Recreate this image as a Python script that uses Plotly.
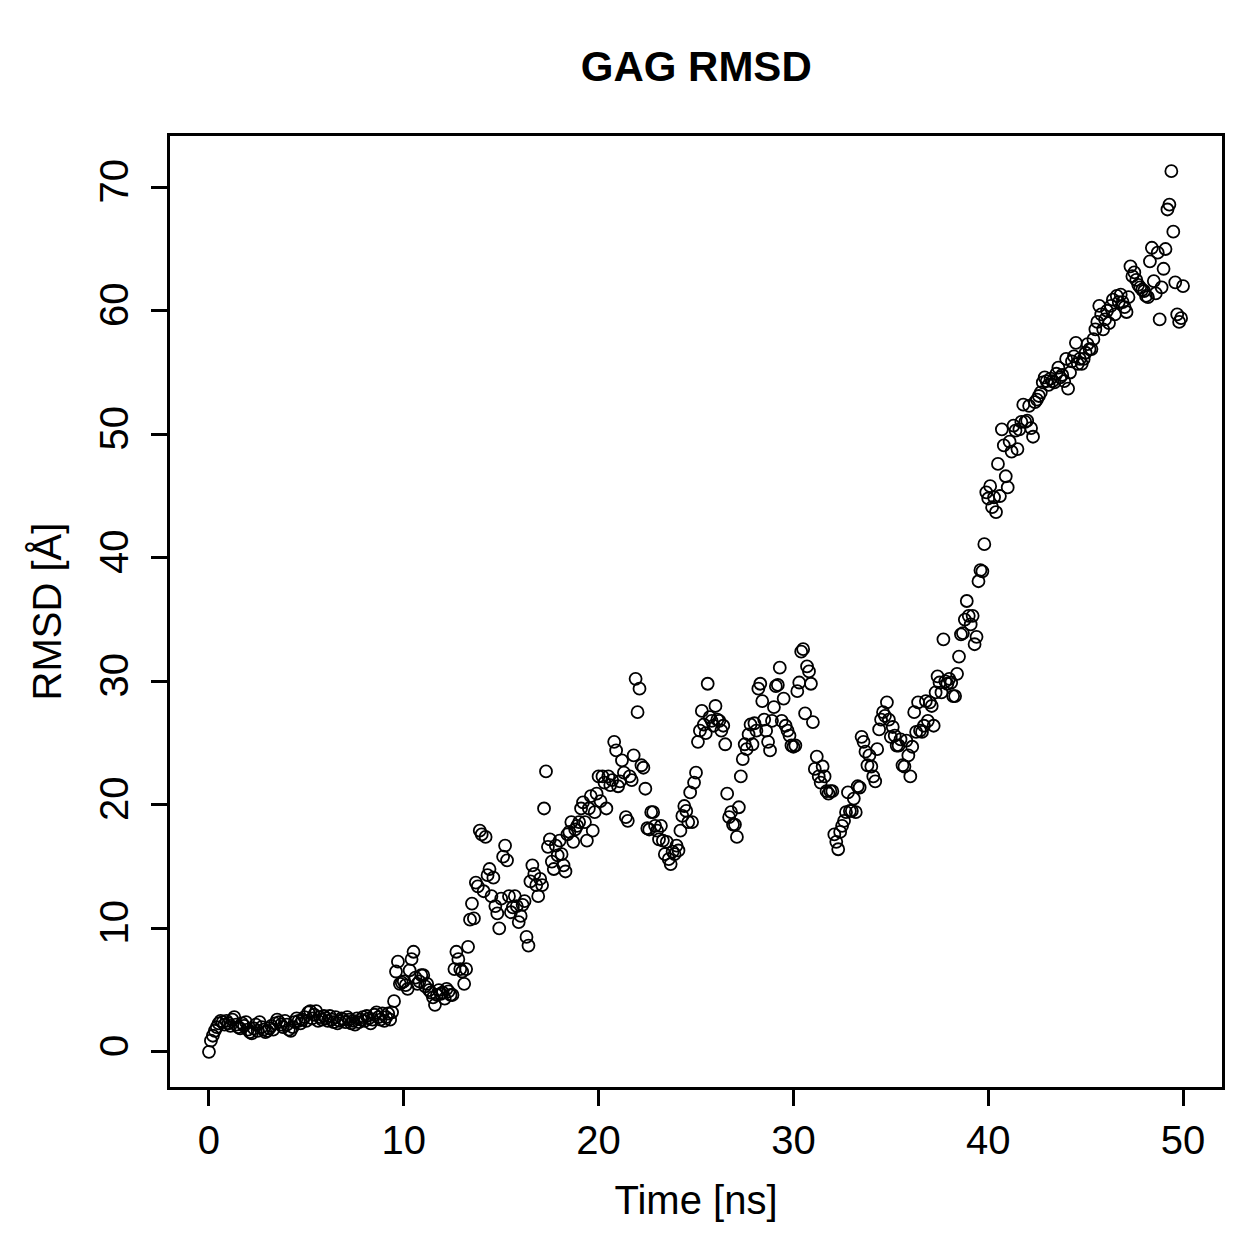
import plotly.graph_objects as go

# Time axis (ns), one frame every 0.1 ns
time_ns = [round(i * 0.1, 1) for i in range(501)]

# RMSD values (Å), 10 frames per row
rmsd = [
    0.0, 0.9, 1.3, 1.7, 2.0, 2.3, 2.5, 2.4, 2.2, 2.5,
    2.3, 2.1, 2.6, 2.8, 2.2, 2.0, 1.9, 2.3, 2.1, 2.4,
    1.8, 1.6, 1.5, 1.9, 2.2, 1.7, 2.4, 2.0, 1.8, 1.6,
    1.7, 1.9, 2.1, 1.8, 2.3, 2.6, 2.4, 2.2, 2.0, 2.5,
    2.2, 1.8, 1.7, 2.0, 2.4, 2.7, 2.5, 2.3, 2.6, 2.8,
    2.5, 3.2, 3.3, 2.7, 3.0, 3.3, 2.5, 2.8, 2.6, 2.9,
    2.7, 2.5, 2.9, 2.6, 2.4, 2.8, 2.3, 2.5, 2.7, 2.6,
    2.4, 2.8, 2.6, 2.3, 2.5, 2.2, 2.7, 2.4, 2.6, 2.8,
    2.5, 2.9, 2.7, 2.3, 2.6, 3.0, 3.2, 2.8, 2.6, 3.1,
    2.5, 2.8, 3.1, 2.6, 3.2, 4.1, 6.5, 7.3, 5.5, 5.6,
    5.7, 5.4, 5.1, 6.6, 7.5, 8.1, 6.0, 5.5, 5.7, 6.2,
    6.2, 5.3, 5.5, 5.0, 4.8, 4.4, 3.8, 4.6, 5.0, 4.7,
    4.8, 4.3, 5.1, 4.9, 4.6, 4.6, 6.7, 8.1, 7.5, 6.7,
    6.5, 5.5, 6.7, 8.5, 10.7, 12.0, 10.8, 13.7, 13.4, 17.9,
    17.6, 13.0, 17.4, 14.3, 14.8, 12.6, 14.1, 11.8, 11.2, 10.0,
    12.4, 15.8, 16.7, 15.5, 12.6, 11.3, 11.7, 12.6, 11.8, 10.5,
    11.0, 11.9, 12.2, 9.3, 8.6, 13.8, 15.1, 14.4, 13.5, 12.6,
    14.0, 13.5, 19.7, 22.7, 16.6, 17.2, 15.4, 14.8, 16.7, 15.9,
    17.1, 16.0, 15.1, 14.6, 17.6, 17.8, 18.6, 17.0, 18.0, 18.3,
    18.6, 19.7, 20.2, 18.6, 17.1, 19.7, 20.7, 17.9, 19.4, 20.9,
    22.3, 20.3, 22.3, 21.8, 19.7, 22.3, 21.6, 22.0, 25.1, 24.4,
    21.5, 21.9, 23.6, 22.6, 19.0, 18.7, 22.3, 22.0, 24.0, 30.2,
    27.5, 29.4, 23.2, 23.0, 21.3, 18.1, 18.0, 19.4, 19.4, 18.3,
    17.9, 17.2, 18.3, 17.1, 16.0, 17.0, 15.6, 15.2, 16.2, 16.0,
    16.7, 16.3, 17.9, 19.1, 19.9, 19.5, 18.6, 21.0, 18.6, 21.8,
    22.6, 25.1, 26.0, 27.6, 26.5, 25.8, 29.8, 27.1, 26.8, 26.4,
    28.0, 26.9, 26.8, 26.0, 26.4, 24.9, 20.9, 19.0, 19.4, 18.4,
    18.4, 17.4, 19.8, 22.3, 23.7, 24.9, 24.5, 25.7, 26.5, 24.9,
    26.6, 26.0, 29.4, 29.8, 28.4, 26.9, 26.0, 25.1, 24.4, 26.8,
    27.9, 29.6, 29.7, 31.1, 26.8, 28.6, 26.4, 26.0, 25.6, 24.8,
    24.7, 24.8, 29.2, 29.9, 32.4, 32.6, 27.4, 31.2, 30.8, 29.8,
    26.7, 22.9, 23.9, 22.3, 21.8, 23.1, 22.3, 21.1, 20.9, 21.1,
    21.1, 17.6, 17.0, 16.4, 17.8, 18.3, 18.7, 19.4, 21.0, 19.5,
    19.5, 20.5, 19.4, 21.5, 21.4, 25.5, 25.1, 24.3, 23.2, 24.0,
    23.1, 22.3, 21.9, 24.5, 26.1, 26.9, 27.5, 27.2, 28.3, 26.9,
    25.5, 26.3, 25.6, 24.8, 24.8, 25.3, 23.2, 23.1, 25.2, 24.0,
    22.3, 24.7, 27.5, 25.9, 28.3, 26.0, 25.9, 26.4, 28.4, 26.8,
    28.3, 28.0, 26.4, 29.1, 30.4, 29.9, 29.1, 33.4, 30.0, 29.8,
    30.2, 29.9, 28.8, 28.8, 30.6, 32.0, 33.8, 33.9, 35.0, 36.5,
    35.3, 34.6, 35.3, 33.0, 33.6, 38.1, 39.0, 38.9, 41.1, 45.3,
    44.8, 45.8, 44.1, 44.9, 43.7, 47.6, 45.0, 50.4, 49.1, 46.6,
    45.7, 49.4, 48.6, 50.7, 50.3, 48.8, 50.4, 51.0, 52.4, 51.0,
    51.1, 52.3, 50.5, 49.8, 52.6, 52.8, 53.1, 53.4, 54.2, 54.6,
    54.3, 54.0, 54.5, 54.3, 54.2, 54.9, 55.4, 54.6, 54.8, 54.3,
    56.1, 53.7, 55.0, 55.9, 56.3, 57.4, 55.7, 56.1, 55.7, 56.1,
    56.6, 57.3, 56.9, 56.9, 57.7, 58.5, 59.1, 60.4, 59.7, 58.5,
    59.3, 60.0, 59.0, 60.4, 60.9, 59.7, 61.2, 60.7, 61.3, 60.7,
    60.3, 59.9, 61.1, 63.6, 62.8, 63.1, 62.5, 62.1, 61.9, 61.7,
    61.6, 61.2, 61.1, 64.0, 65.1, 62.4, 61.4, 64.7, 59.3, 61.9,
    63.4, 65.0, 68.2, 68.6, 71.3, 66.4, 62.3, 59.7, 59.1, 59.4,
    62.0,
]

x_ticks = [0, 10, 20, 30, 40, 50]
y_ticks = [0, 10, 20, 30, 40, 50, 60, 70]

title_text = "GAG RMSD"
x_label = "Time [ns]"
y_label = "RMSD [Å]"

FONT = "Liberation Sans, Arial, Helvetica, sans-serif"

fig = go.Figure()
fig.add_trace(go.Scatter(
    x=time_ns, y=rmsd, mode="markers",
    marker=dict(symbol="circle-open", size=12, color="black",
                line=dict(color="black", width=1.8)),
    showlegend=False, hoverinfo="x+y",
))

axis_common = dict(
    showline=True, linecolor="black", linewidth=3, mirror=True,
    ticks="outside", ticklen=16, tickwidth=3, tickcolor="black",
    showgrid=False, zeroline=False,
    tickfont=dict(family=FONT, size=40, color="black"),
)

fig.update_layout(
    width=1259, height=1259,
    margin=dict(l=170, r=37, t=136, b=172),
    paper_bgcolor="white", plot_bgcolor="white",
    font=dict(family=FONT, color="black"),
    title=dict(text="<b>" + title_text + "</b>", x=0.553, xanchor="center",
               y=1 - 66 / 1259, yanchor="middle", yref="container",
               font=dict(family=FONT, size=42, color="black")),
    xaxis=dict(range=[-2, 52], tickvals=x_ticks, ticklabelstandoff=0,
               title=dict(text=x_label, standoff=25,
                          font=dict(family=FONT, size=40, color="black")),
               **axis_common),
    yaxis=dict(range=[-2.85, 74.15], tickvals=y_ticks, tickangle=-90,
               ticklabelstandoff=7,
               title=dict(text=y_label, standoff=19,
                          font=dict(family=FONT, size=40, color="black")),
               **axis_common),
)

fig.write_html("out.html")
